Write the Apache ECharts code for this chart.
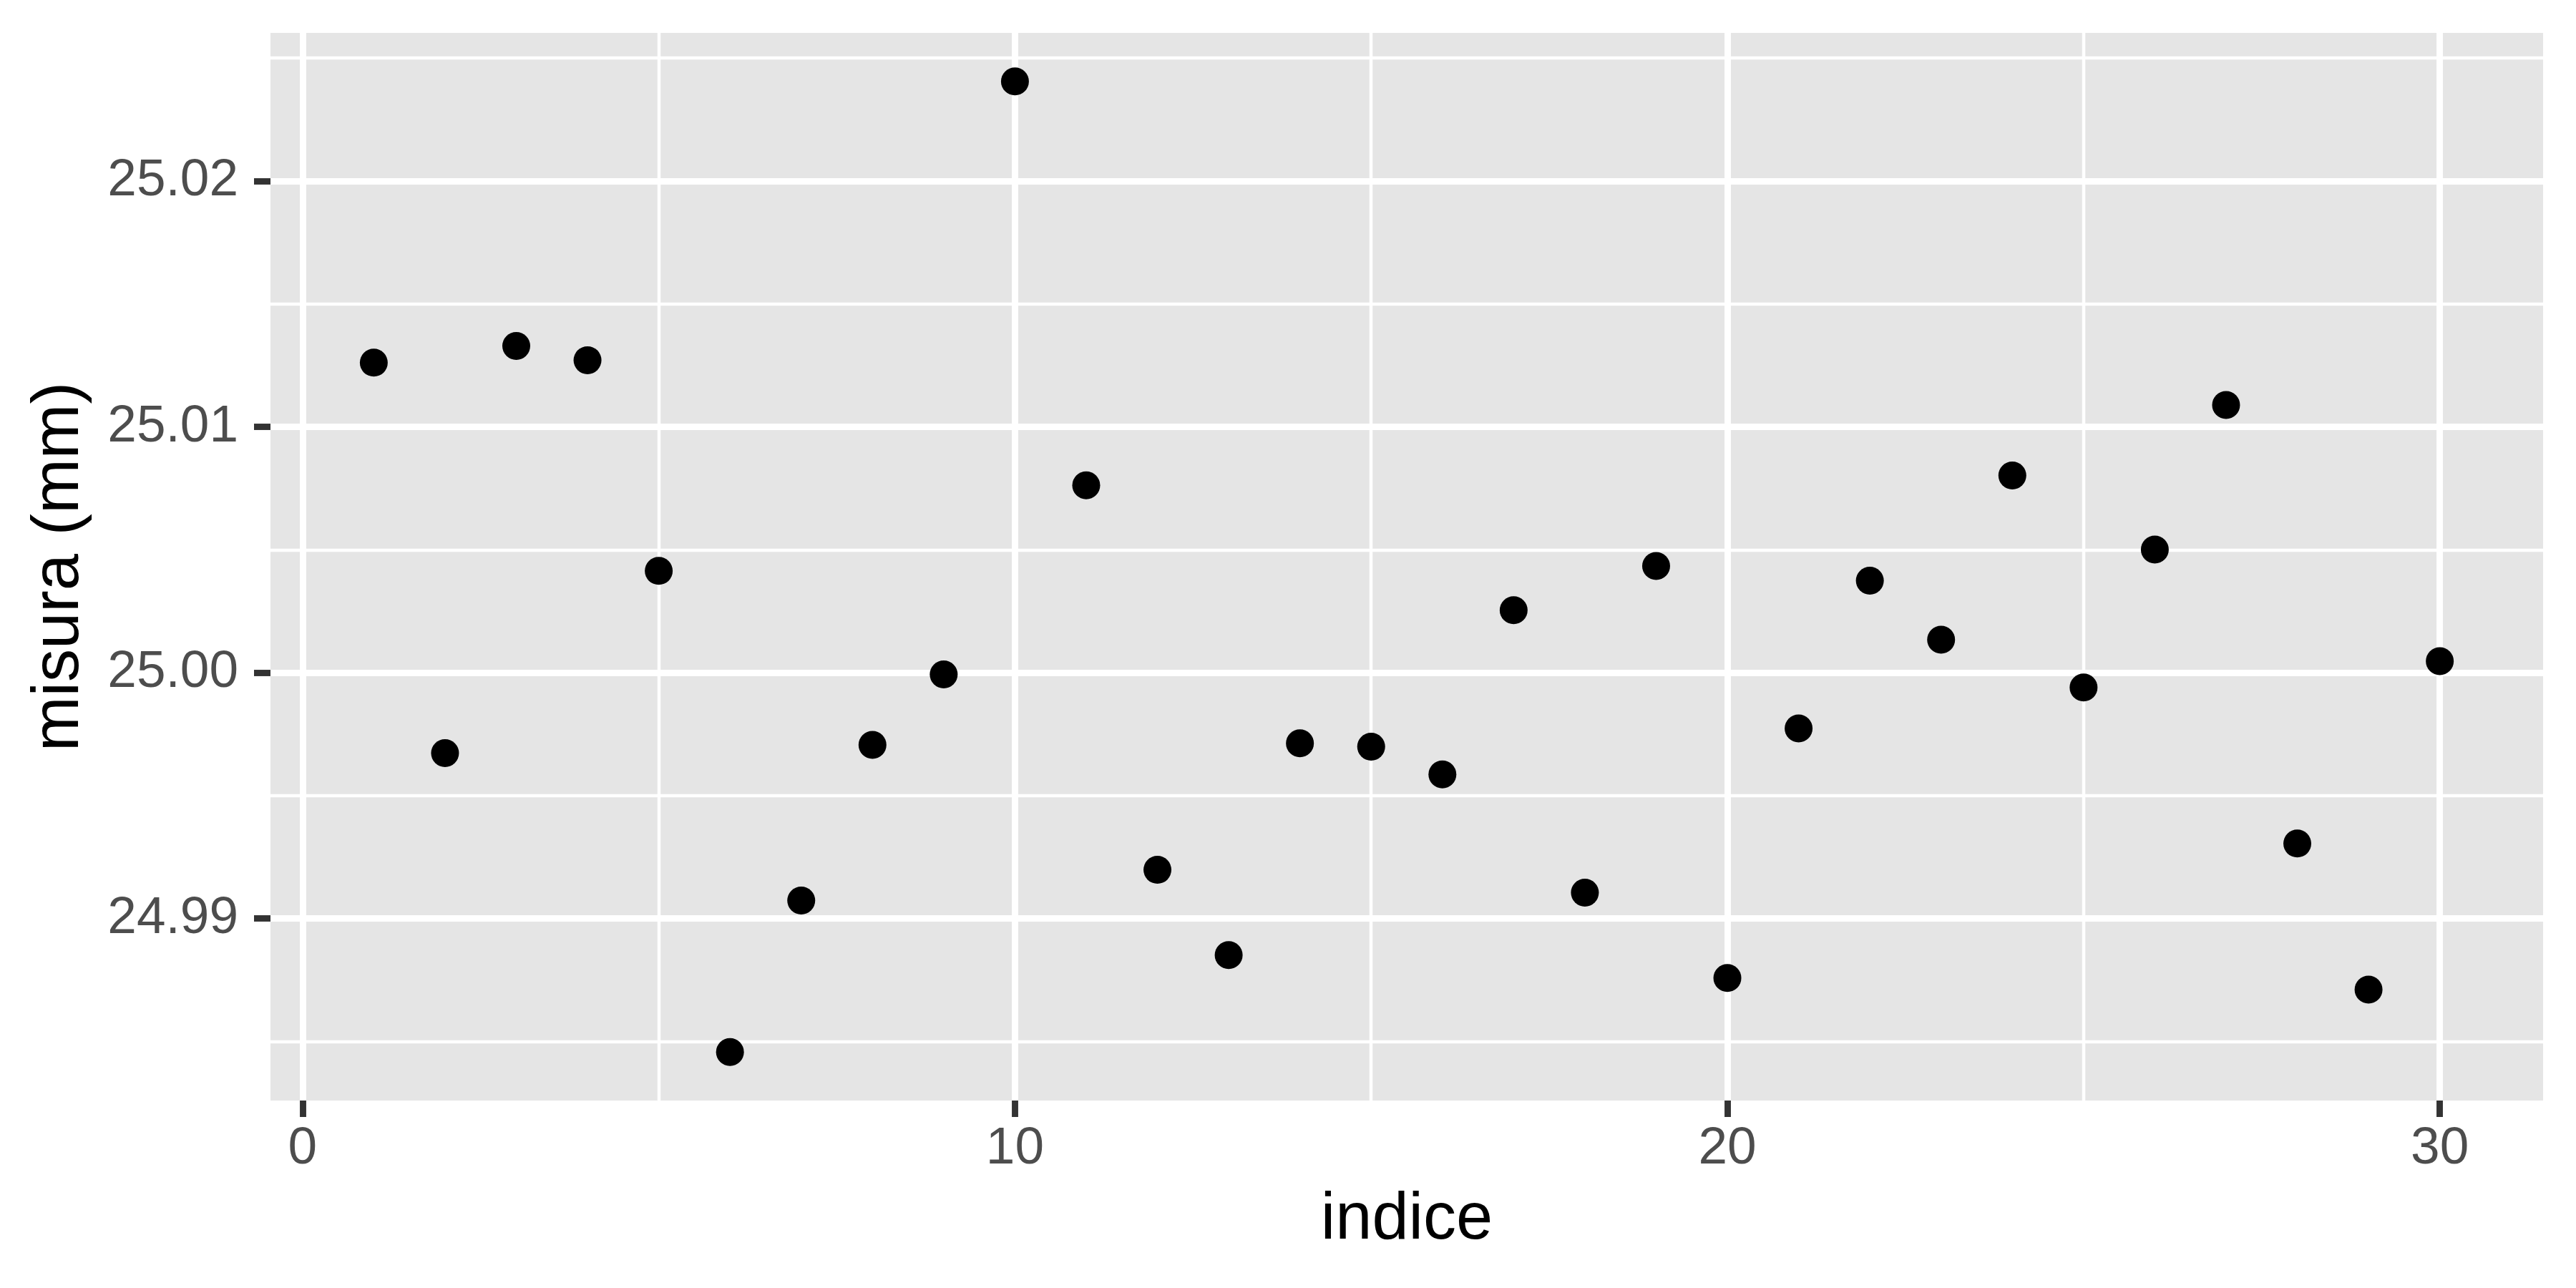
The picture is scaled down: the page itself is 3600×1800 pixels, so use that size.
<!DOCTYPE html>
<html>
<head>
<meta charset="utf-8">
<script src="https://cdn.jsdelivr.net/npm/echarts@6/dist/echarts.min.js"></script>
<style>
html,body{margin:0;padding:0;background:#fff;}
#chart{width:3600px;height:1800px;}
</style>
</head>
<body>
<div id="chart"></div>
<script>
const indice = [1,2,3,4,5,6,7,8,9,10,11,12,13,14,15,16,17,18,19,20,21,22,23,24,25,26,27,28,29,30];
const misura = [25.01261,24.99673,25.01329,25.01271,25.00414,24.98457,24.99073,24.99706,24.99993,25.02405,
                25.00762,24.99198,24.98851,24.99713,24.99699,24.99586,25.00254,24.99105,25.00434,24.98758,
                24.99773,25.00374,25.00134,25.00802,24.9994,25.00501,25.01089,24.99305,24.98711,25.00047];
const xTicks = [0,10,20,30];
const xMinorTicks = [5,15,25];
const yTicks = [24.99,25.00,25.01,25.02];
const yMinorTicks = [24.985,24.995,25.005,25.015,25.025];
const xTitle = 'indice';
const yTitle = 'misura (mm)';

const FONT = '"Liberation Sans", Arial, Helvetica, sans-serif';
const xLo = Math.min(...indice), xHi = Math.max(...indice);
const yLo = Math.min(...misura), yHi = Math.max(...misura);
const xPad = (xHi - xLo) * 0.05, yPad = (yHi - yLo) * 0.05;
const xMin = xLo - xPad, xMax = xHi + xPad, yMin = yLo - yPad, yMax = yHi + yPad;

const MAJ = 8.9, MIN = 4.45;
const chart = echarts.init(document.getElementById('chart'), null, {renderer: 'canvas'});
chart.setOption({
  animation: false,
  backgroundColor: '#ffffff',
  grid: {left: 378, right: 46, top: 46, bottom: 262, show: true, backgroundColor: '#E5E5E5', borderWidth: 0, containLabel: false, outerBoundsMode: 'none'},
  xAxis: [{
    type: 'value', min: xMin, max: xMax, position: 'bottom',
    axisLine: {show: false, onZero: false},
    axisTick: {show: true, length: 23, customValues: xTicks, lineStyle: {color: '#333333', width: MAJ}},
    axisLabel: {show: true, customValues: xTicks, margin: 31, fontSize: 73, color: '#4D4D4D', fontFamily: FONT},
    splitLine: {show: true, lineStyle: {color: '#ffffff', width: MAJ}},
    name: xTitle, nameLocation: 'middle', nameGap: 122,
    nameTextStyle: {fontSize: 92, color: '#000000', fontFamily: FONT}
  }, {
    type: 'value', min: xMin, max: xMax, position: 'top',
    axisLine: {show: false, onZero: false},
    axisTick: {show: false, customValues: xMinorTicks},
    axisLabel: {show: false},
    splitLine: {show: true, lineStyle: {color: '#ffffff', width: MIN}}
  }],
  yAxis: [{
    type: 'value', min: yMin, max: yMax, position: 'left',
    axisLine: {show: false, onZero: false},
    axisTick: {show: true, length: 23, customValues: yTicks, lineStyle: {color: '#333333', width: MAJ}},
    axisLabel: {show: true, customValues: yTicks, margin: 45, fontSize: 73, color: '#4D4D4D', fontFamily: FONT,
      formatter: v => v.toFixed(2)},
    splitLine: {show: true, lineStyle: {color: '#ffffff', width: MAJ}},
    name: yTitle, nameLocation: 'middle', nameGap: 248,
    nameTextStyle: {fontSize: 92, color: '#000000', fontFamily: FONT}
  }, {
    type: 'value', min: yMin, max: yMax, position: 'right',
    axisLine: {show: false, onZero: false},
    axisTick: {show: false, customValues: yMinorTicks},
    axisLabel: {show: false},
    splitLine: {show: true, lineStyle: {color: '#ffffff', width: MIN}}
  }],
  series: [{
    type: 'scatter',
    xAxisIndex: 0, yAxisIndex: 0,
    data: indice.map((x, i) => [x, misura[i]]),
    symbol: 'circle', symbolSize: 39,
    itemStyle: {color: '#000000', opacity: 1},
    z: 5
  }]
});
</script>
</body>
</html>
